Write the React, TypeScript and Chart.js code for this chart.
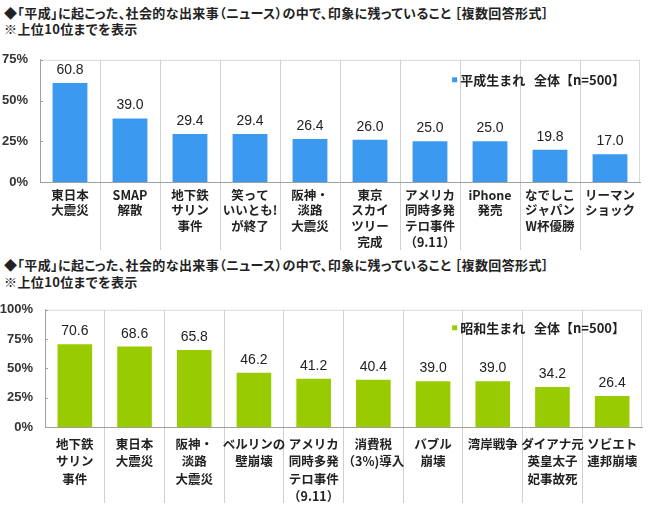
import React, { useEffect, useRef } from "react";
import { Chart, registerables } from "chart.js";

Chart.register(...registerables);

const TITLE = "◆「平成」に起こった、社会的な出来事（ニュース）の中で、印象に残っていること ［複数回答形式］";
const SUBTITLE = "※上位10位までを表示";

const heiseiLabels: string[][] = [
  ["東日本", "大震災"],
  ["SMAP", "解散"],
  ["地下鉄", "サリン", "事件"],
  ["笑って", "いいとも!", "が終了"],
  ["阪神・", "淡路", "大震災"],
  ["東京", "スカイ", "ツリー", "完成"],
  ["アメリカ", "同時多発", "テロ事件", "（9.11）"],
  ["iPhone", "発売"],
  ["なでしこ", "ジャパン", "W杯優勝"],
  ["リーマン", "ショック"],
];
const heiseiValues: number[] = [60.8, 39.0, 29.4, 29.4, 26.4, 26.0, 25.0, 25.0, 19.8, 17.0];
const heiseiLegend = "平成生まれ   全体【n=500】";
const heiseiTicks: number[] = [0, 25, 50, 75];

const showaLabels: string[][] = [
  ["地下鉄", "サリン", "事件"],
  ["東日本", "大震災"],
  ["阪神・", "淡路", "大震災"],
  ["ベルリンの", "壁崩壊"],
  ["アメリカ", "同時多発", "テロ事件", "（9.11）"],
  ["消費税", "（3%)導入"],
  ["バブル", "崩壊"],
  ["湾岸戦争"],
  ["ダイアナ元", "英皇太子", "妃事故死"],
  ["ソビエト", "連邦崩壊"],
];
const showaValues: number[] = [70.6, 68.6, 65.8, 46.2, 41.2, 40.4, 39.0, 39.0, 34.2, 26.4];
const showaLegend = "昭和生まれ   全体【n=500】";
const showaTicks: number[] = [0, 25, 50, 75, 100];

const JP = '"Noto Sans CJK JP", "Noto Sans", sans-serif';
const LAT = '"Liberation Sans", Arial, sans-serif';

type Cfg = {
  labels: string[][];
  values: number[];
  ticks: number[];
  color: string;
  legend: string;
  width: number;
  height: number;
  yWidth: number;
  padRight: number;
  xHeight: number;
  tickLen: number;
  tickPad: number;
  lineHeight: number;
  legendRight: number;
  legendTop: number;
};

function BarChart(props: Cfg) {
  const ref = useRef<HTMLCanvasElement | null>(null);
  useEffect(() => {
    if (!ref.current) return;
    const p = props;
    const plugin = {
      id: "extras",
      beforeDatasetsDraw(chart: any) {
        const { ctx, chartArea } = chart;
        ctx.save();
        ctx.strokeStyle = "#d9d9d9";
        ctx.lineWidth = 1;
        ctx.beginPath();
        ctx.moveTo(chartArea.left, chartArea.top + 0.5);
        ctx.lineTo(chartArea.right, chartArea.top + 0.5);
        ctx.moveTo(chartArea.right - 0.5, chartArea.top);
        ctx.lineTo(chartArea.right - 0.5, chartArea.bottom);
        ctx.stroke();
        const y = chart.scales.y;
        ctx.strokeStyle = "#a0a0a0";
        ctx.beginPath();
        p.ticks.forEach((t) => {
          const py = Math.round(y.getPixelForValue(t)) + 0.5;
          ctx.moveTo(chartArea.left, py);
          ctx.lineTo(chartArea.left + 3, py);
        });
        ctx.stroke();
        ctx.restore();
      },
      afterDatasetsDraw(chart: any) {
        const { ctx, chartArea } = chart;
        const meta = chart.getDatasetMeta(0);
        ctx.save();
        ctx.font = `14px ${LAT}`;
        ctx.fillStyle = "#222";
        ctx.textAlign = "center";
        ctx.textBaseline = "alphabetic";
        meta.data.forEach((el: any, i: number) => {
          ctx.fillText(p.values[i].toFixed(1), el.x, el.y - 9);
        });
        // legend
        ctx.font = `bold 13px ${JP}`;
        ctx.textAlign = "right";
        ctx.textBaseline = "middle";
        const tx = chartArea.right - p.legendRight;
        const ty = chartArea.top + p.legendTop;
        const w = ctx.measureText(p.legend).width;
        ctx.fillStyle = "#222";
        ctx.fillText(p.legend, tx, ty);
        ctx.fillStyle = p.color;
        ctx.fillRect(tx - w - 8, ty - 2.5, 5, 5);
        ctx.restore();
      },
    };
    const chart = new Chart(ref.current, {
      type: "bar",
      data: {
        labels: p.labels,
        datasets: [
          {
            label: p.legend,
            data: p.values,
            backgroundColor: p.color,
            barPercentage: 0.58,
            categoryPercentage: 1,
          },
        ],
      },
      options: {
        animation: false,
        responsive: false,
        layout: { padding: { top: 10, right: p.padRight, bottom: 0, left: 0 } },
        plugins: {
          legend: { display: false },
          tooltip: { enabled: false },
        },
        scales: {
          x: {
            offset: true,
            grid: {
              offset: true,
              drawTicks: true,
              tickLength: p.tickLen,
              color: (c: any) => (typeof c.index === "number" && c.index > 0 ? "#d0d0d0" : "rgba(0,0,0,0)"),
            },
            border: { display: true, color: "#a0a0a0" },
            ticks: {
              padding: p.tickPad,
              color: "#222",
              autoSkip: false,
              maxRotation: 0,
              font: { family: JP, size: 12.5, weight: "bold", lineHeight: p.lineHeight },
            },
            afterFit: (s: any) => {
              s.height = p.xHeight;
            },
          },
          y: {
            min: 0,
            max: p.ticks[p.ticks.length - 1],
            grid: { display: false, drawTicks: false },
            border: { display: true, color: "#a0a0a0" },
            ticks: {
              stepSize: 25,
              padding: 12,
              color: "#333",
              font: { family: LAT, size: 13, weight: "bold" },
              callback: (v: any) => v + "%",
            },
            afterFit: (s: any) => {
              s.width = p.yWidth;
            },
          },
        },
      },
      plugins: [plugin],
    } as any);
    return () => chart.destroy();
  }, []);
  return (
    <canvas
      ref={ref}
      width={props.width}
      height={props.height}
      style={{ width: props.width, height: props.height, display: "block" }}
    />
  );
}

const titleStyle: React.CSSProperties = {
  position: "absolute",
  left: 4,
  fontFamily: JP,
  fontWeight: "bold",
  fontSize: 13,
  lineHeight: "16px",
  color: "#222",
  whiteSpace: "nowrap",
  fontFeatureSettings: '"palt"',
  letterSpacing: "0.4px",
};

export default function App() {
  return (
    <div
      style={{
        position: "absolute",
        left: 0,
        top: 0,
        width: 650,
        height: 506,
        background: "#fff",
        overflow: "hidden",
      }}
    >
      <div style={{ ...titleStyle, top: 5 }}>{TITLE}</div>
      <div style={{ ...titleStyle, top: 21 }}>{SUBTITLE}</div>
      <div style={{ position: "absolute", left: 0, top: 40 }}>
        <BarChart
          labels={heiseiLabels}
          values={heiseiValues}
          ticks={heiseiTicks}
          color="#3b99f0"
          legend={heiseiLegend}
          width={650}
          height={215}
          yWidth={40}
          padRight={10}
          xHeight={73}
          tickLen={68}
          tickPad={-63}
          lineHeight={1.26}
          legendRight={15}
          legendTop={20}
        />
      </div>
      <div style={{ ...titleStyle, top: 257 }}>{TITLE}</div>
      <div style={{ ...titleStyle, top: 274 }}>{SUBTITLE}</div>
      <div style={{ position: "absolute", left: 0, top: 290 }}>
        <BarChart
          labels={showaLabels}
          values={showaValues}
          ticks={showaTicks}
          color="#99cc00"
          legend={showaLegend}
          width={650}
          height={216}
          yWidth={45}
          padRight={8}
          xHeight={79}
          tickLen={76}
          tickPad={-68}
          lineHeight={1.4}
          legendRight={17}
          legendTop={18}
        />
      </div>
    </div>
  );
}
